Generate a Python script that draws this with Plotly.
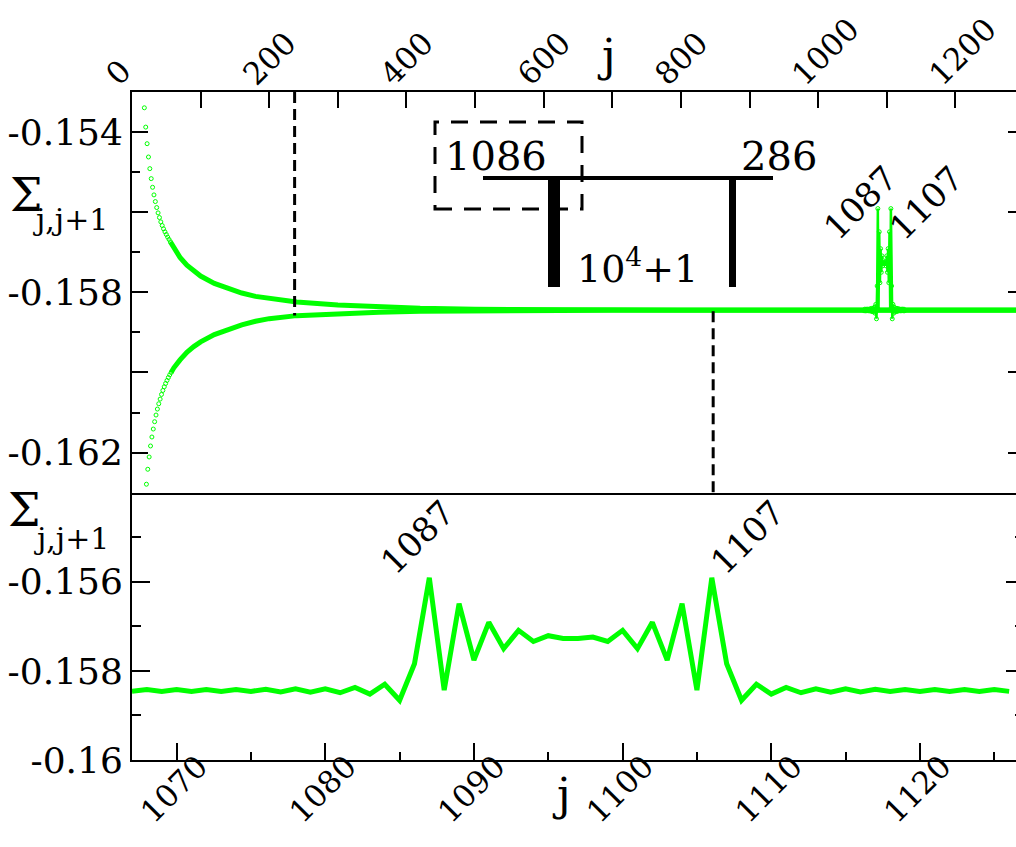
import plotly.graph_objects as go

GREEN = "#00ff00"
FONT = "DejaVu Serif"

# ---------------- data ----------------
# top panel, upper branch: individually visible circles
up_j = [18, 20, 22, 24, 26, 28, 30, 32, 34, 36, 38, 40, 42, 44, 46, 48, 50, 52, 54, 56]
up_v = [-0.153394, -0.153876, -0.154290, -0.154622, -0.154913, -0.155162, -0.155378,
        -0.155568, -0.155734, -0.155884, -0.156017, -0.156133, -0.156241, -0.156332,
        -0.156415, -0.156490, -0.156556, -0.156622, -0.156680, -0.156739]
# top panel, upper branch: dense band
upb_j = [56, 60, 70, 80, 90, 100, 120, 140, 160, 180, 200, 240, 300, 360, 420, 500, 600,
         700, 800, 900, 1000, 1060, 1130, 1200, 1300]
upb_v = [-0.156739, -0.156846, -0.157129, -0.157320, -0.157469, -0.157593, -0.157776,
         -0.157909, -0.158017, -0.158100, -0.158149, -0.158241, -0.158315, -0.158365,
         -0.158398, -0.158423, -0.158436, -0.158440, -0.158440, -0.158440, -0.158440,
         -0.158440, -0.158440, -0.158440, -0.158440]
# top panel, lower branch: individually visible circles
lo_j = [21, 23, 25, 27, 29, 31, 33, 35, 37, 39, 41, 43, 45, 47, 49, 51, 53, 55, 57]
lo_v = [-0.162788, -0.162415, -0.162108, -0.161834, -0.161610, -0.161411, -0.161228,
        -0.161062, -0.160913, -0.160780, -0.160664, -0.160548, -0.160448, -0.160357,
        -0.160274, -0.160199, -0.160125, -0.160058, -0.160000]
# top panel, lower branch: dense band
lob_j = [57, 61, 70, 80, 90, 100, 120, 140, 160, 180, 200, 240, 300, 360, 420, 500, 600,
         700, 800, 900, 1000, 1060, 1130, 1200, 1300]
lob_v = [-0.160000, -0.159884, -0.159685, -0.159494, -0.159353, -0.159237, -0.159054,
         -0.158921, -0.158813, -0.158722, -0.158656, -0.158581, -0.158531, -0.158498,
         -0.158473, -0.158456, -0.158448, -0.158444, -0.158444, -0.158444, -0.158444,
         -0.158444, -0.158444, -0.158444, -0.158444]

# zoomed region (bottom panel, also overlaid in the top panel)
zj = [1067, 1068, 1069, 1070, 1071, 1072, 1073, 1074, 1075, 1076, 1077, 1078, 1079, 1080,
      1081, 1082, 1083, 1084, 1085, 1086, 1087, 1088, 1089, 1090, 1091, 1092, 1093, 1094,
      1095, 1096, 1097, 1098, 1099, 1100, 1101, 1102, 1103, 1104, 1105, 1106, 1107, 1108,
      1109, 1110, 1111, 1112, 1113, 1114, 1115, 1116, 1117, 1118, 1119, 1120, 1121, 1122,
      1123, 1124, 1125, 1126]
zv = [-0.15846, -0.15842, -0.15846, -0.15842, -0.15846, -0.15842, -0.15846, -0.15842,
      -0.15846, -0.15841, -0.15847, -0.15840, -0.15848, -0.15840, -0.15849, -0.15837,
      -0.15852, -0.15830, -0.15866, -0.15784, -0.15591, -0.15843, -0.15649, -0.15776,
      -0.15691, -0.15750, -0.15709, -0.15734, -0.15721, -0.15727, -0.15727, -0.15724,
      -0.15734, -0.15709, -0.15750, -0.15691, -0.15776, -0.15649, -0.15843, -0.15591,
      -0.15784, -0.15866, -0.15830, -0.15852, -0.15837, -0.15849, -0.15840, -0.15848,
      -0.15840, -0.15847, -0.15841, -0.15846, -0.15842, -0.15846, -0.15842, -0.15846,
      -0.15842, -0.15846, -0.15842, -0.15846]

# ticks
top_x_ticks = [0, 200, 400, 600, 800, 1000, 1200]
top_x_minor = [100, 300, 500, 700, 900, 1100, 1300]
top_y_ticks = [-0.162, -0.160, -0.158, -0.156, -0.154]
top_y_text = ["-0.162", "", "-0.158", "", "-0.154"]
top_y_minor = [-0.163, -0.161, -0.159, -0.157, -0.155, -0.153]
bot_x_ticks = [1070, 1080, 1090, 1100, 1110, 1120]
bot_x_minor = [1075, 1085, 1095, 1105, 1115, 1125]
bot_y_ticks = [-0.160, -0.158, -0.156]
bot_y_text = ["-0.16", "-0.158", "-0.156"]
bot_y_minor = [-0.159, -0.157, -0.155]

# peak labels
peak_labels = ["1087", "1107"]
top_peak_x = [1062.4, 1157.2]
top_peak_y = [-0.15575, -0.15577]
bot_peak_x = [1086.2, 1108.4]
bot_peak_y = [-0.15499, -0.15499]

# dashed marker lines (top panel, data units)
dash1_x, dash1_y = 237, (-0.153, -0.15858)
dash2_x, dash2_y = 847, (-0.15847, -0.163)

# ---------------- figure ----------------
W, H = 1024, 847
ML, MR, MT, MB = 132, 0, 92, 87
PW, PH = W - ML - MR, H - MT - MB
SPLIT = (760 - 492.7) / PH


def px(x):
    return (x - ML) / PW


def py(y):
    return (H - MB - y) / PH


fig = go.Figure()
mk = dict(symbol="circle-open", size=4, color=GREEN, line=dict(width=1, color=GREEN))
fig.add_trace(go.Scatter(x=upb_j, y=upb_v, mode="lines", line=dict(color=GREEN, width=5),
                         xaxis="x", yaxis="y", hoverinfo="skip"))
fig.add_trace(go.Scatter(x=lob_j, y=lob_v, mode="lines", line=dict(color=GREEN, width=5),
                         xaxis="x", yaxis="y", hoverinfo="skip"))
fig.add_trace(go.Scatter(x=up_j, y=up_v, mode="markers", marker=mk, xaxis="x", yaxis="y"))
fig.add_trace(go.Scatter(x=lo_j, y=lo_v, mode="markers", marker=mk, xaxis="x", yaxis="y"))
fig.add_trace(go.Scatter(x=zj, y=zv, mode="lines+markers", marker=mk,
                         line=dict(color=GREEN, width=2.5), xaxis="x", yaxis="y"))
fig.add_trace(go.Scatter(x=zj, y=zv, mode="lines", line=dict(color=GREEN, width=5),
                         xaxis="x2", yaxis="y2"))

axis_common = dict(showgrid=False, zeroline=False, showline=True, linecolor="black",
                   linewidth=2, ticks="inside", tickcolor="black", tickwidth=2,
                   automargin=False, ticklabeloverflow="allow")

fig.update_layout(
    width=W, height=H, margin=dict(l=ML, r=MR, t=MT, b=MB, autoexpand=False),
    paper_bgcolor="white", plot_bgcolor="white", showlegend=False,
    font=dict(family=FONT, color="black"),
    xaxis=dict(**axis_common, domain=[0, 1], anchor="y", side="top", range=[0, 1300],
               tickmode="array", tickvals=top_x_ticks, ticklen=16, tickangle=-45,
               tickfont=dict(size=31, family=FONT), mirror=True, ticklabelshift=-24,
               ticklabelstandoff=-14,
               minor=dict(tickmode="array", tickvals=top_x_minor, ticklen=16, ticks="inside",
                          tickcolor="black", tickwidth=2, showgrid=False)),
    yaxis=dict(**axis_common, domain=[SPLIT, 1], anchor="x", range=[-0.163, -0.153],
               tickmode="array", tickvals=top_y_ticks, ticktext=top_y_text, ticklen=16,
               tickfont=dict(size=36, family=FONT), mirror="ticks",
               minor=dict(tickmode="array", tickvals=top_y_minor, ticklen=8, ticks="inside",
                          tickcolor="black", tickwidth=2, showgrid=False)),
    xaxis2=dict(**axis_common, domain=[0, 1], anchor="y2", range=[1067, 1127],
                tickmode="array", tickvals=bot_x_ticks, ticklen=17, tickangle=-45,
                tickfont=dict(size=31, family=FONT), mirror=False, ticklabelshift=22,
                ticklabelstandoff=-26,
                minor=dict(tickmode="array", tickvals=bot_x_minor, ticklen=8, ticks="inside",
                           tickcolor="black", tickwidth=2, showgrid=False)),
    yaxis2=dict(**axis_common, domain=[0, SPLIT], anchor="x2", range=[-0.16, -0.154],
                tickmode="array", tickvals=bot_y_ticks, ticktext=bot_y_text, ticklen=18,
                tickfont=dict(size=36, family=FONT), mirror="ticks",
                minor=dict(tickmode="array", tickvals=bot_y_minor, ticklen=9, ticks="inside",
                           tickcolor="black", tickwidth=2, showgrid=False)),
)

shapes = [
    dict(type="line", xref="x", yref="y", x0=dash1_x, x1=dash1_x, y0=dash1_y[0], y1=dash1_y[1],
         line=dict(color="black", width=3, dash="11px,6px")),
    dict(type="line", xref="x", yref="y", x0=dash2_x, x1=dash2_x, y0=dash2_y[0], y1=dash2_y[1],
         line=dict(color="black", width=3, dash="11px,6px")),
    # schematic
    dict(type="rect", xref="paper", yref="paper", x0=px(435), x1=px(582), y0=py(209), y1=py(122),
         line=dict(color="black", width=3, dash="17px,12px")),
    dict(type="line", xref="paper", yref="paper", x0=px(483), x1=px(773), y0=py(178), y1=py(178),
         line=dict(color="black", width=4)),
    dict(type="rect", xref="paper", yref="paper", x0=px(548), x1=px(560), y0=py(287), y1=py(178),
         line=dict(width=0), fillcolor="black"),
    dict(type="rect", xref="paper", yref="paper", x0=px(729), x1=px(736), y0=py(287), y1=py(178),
         line=dict(width=0), fillcolor="black"),
]
fig.update_layout(shapes=shapes)

ann = []


def txt(x, y, s, size, xref="paper", yref="paper", angle=0):
    ann.append(dict(x=x, y=y, xref=xref, yref=yref, text=s, showarrow=False,
                    xanchor="center", yanchor="middle", textangle=angle,
                    font=dict(family=FONT, size=size, color="black")))


txt(px(495.5), py(156), "1086", 40)
txt(px(778.5), py(156), "286", 40)
txt(px(637), py(266), "10<sup>4</sup>+1", 38)
txt(px(26), py(194.5), "Σ", 46)
txt(px(70), py(220), "j,j+1", 30)
txt(px(24), py(510), "Σ", 46)
txt(px(71), py(538), "j,j+1", 30)
txt(px(606), py(56), "j", 44)
txt(px(561), py(795), "j", 44)
for lab, x, y in zip(peak_labels, top_peak_x, top_peak_y):
    txt(x, y, lab, 34, "x", "y", -45)
for lab, x, y in zip(peak_labels, bot_peak_x, bot_peak_y):
    txt(x, y, lab, 34, "x2", "y2", -45)
fig.update_layout(annotations=ann)

fig.write_html("out.html", post_script="document.body.style.margin='0';document.body.style.overflow='hidden';")
